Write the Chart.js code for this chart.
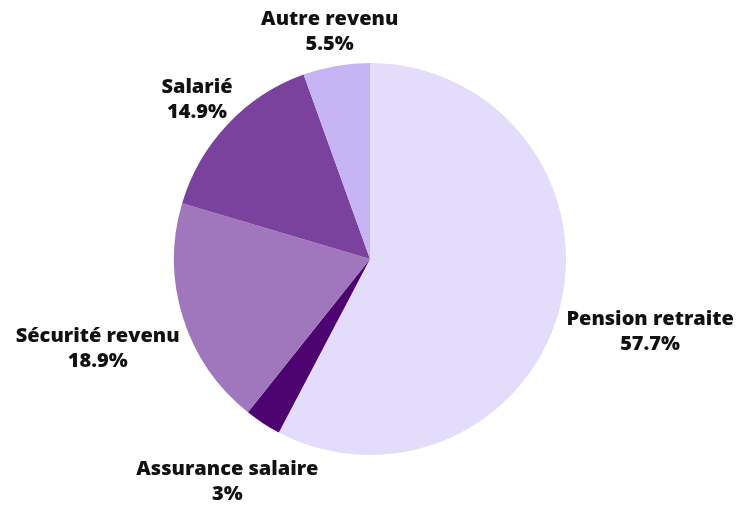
<!DOCTYPE html>
<html>
<head>
<meta charset="utf-8">
<script src="https://cdn.jsdelivr.net/npm/chart.js@4/dist/chart.umd.min.js"></script>
<style>
html,body{margin:0;padding:0;background:#fff;}
#wrap{width:751px;height:506px;position:relative;}
</style>
</head>
<body>
<div id="wrap"><canvas id="c" width="751" height="506"></canvas></div>
<script>
const categories = ["Pension retraite", "Assurance salaire", "Sécurité revenu", "Salarié", "Autre revenu"];
const values = [57.7, 3, 18.9, 14.9, 5.5];
const valueLabels = ["57.7%", "3%", "18.9%", "14.9%", "5.5%"];
const colors = ["#e3dcfb", "#4e0470", "#a077bd", "#7a429c", "#c6b4f4"];

const FONT = "800 20px 'Open Sans'";
const LINE_H = 25;
const OFFSET = 11;
const Y_SHIFT = 4;

const outsideLabels = {
  id: 'outsideLabels',
  afterDatasetsDraw(chart) {
    const ctx = chart.ctx;
    const meta = chart.getDatasetMeta(0);
    ctx.save();
    ctx.font = FONT;
    ctx.fillStyle = "#111111";
    ctx.textAlign = "center";
    ctx.textBaseline = "middle";
    meta.data.forEach((arc, i) => {
      const p = arc.getProps(['x','y','startAngle','endAngle','outerRadius'], true);
      const mid = (p.startAngle + p.endAngle) / 2;
      const dx = Math.cos(mid), dy = Math.sin(mid);
      const ex = p.x + dx * p.outerRadius, ey = p.y + dy * p.outerRadius;
      const lines = [categories[i], valueLabels[i]];
      const w = Math.max(...lines.map(l => ctx.measureText(l).width));
      const h = LINE_H * 2;
      const d = Math.sqrt(Math.pow(w/2*dx,2) + Math.pow(h/2*dy,2)) + OFFSET;
      const cx = ex + dx * d, cy = ey + dy * d + Y_SHIFT;
      ctx.fillText(lines[0], cx, cy - LINE_H/2);
      ctx.fillText(lines[1], cx, cy + LINE_H/2);
    });
    ctx.restore();
  }
};

new Chart(document.getElementById('c'), {
  type: 'pie',
  data: {
    labels: categories,
    datasets: [{
      data: values,
      backgroundColor: colors,
      borderWidth: 0
    }]
  },
  options: {
    responsive: false,
    animation: false,
    layout: { padding: { top: 63, bottom: 51, left: 174, right: 185 } },
    plugins: { legend: { display: false }, tooltip: { enabled: false } }
  },
  plugins: [outsideLabels]
});
</script>
</body>
</html>
